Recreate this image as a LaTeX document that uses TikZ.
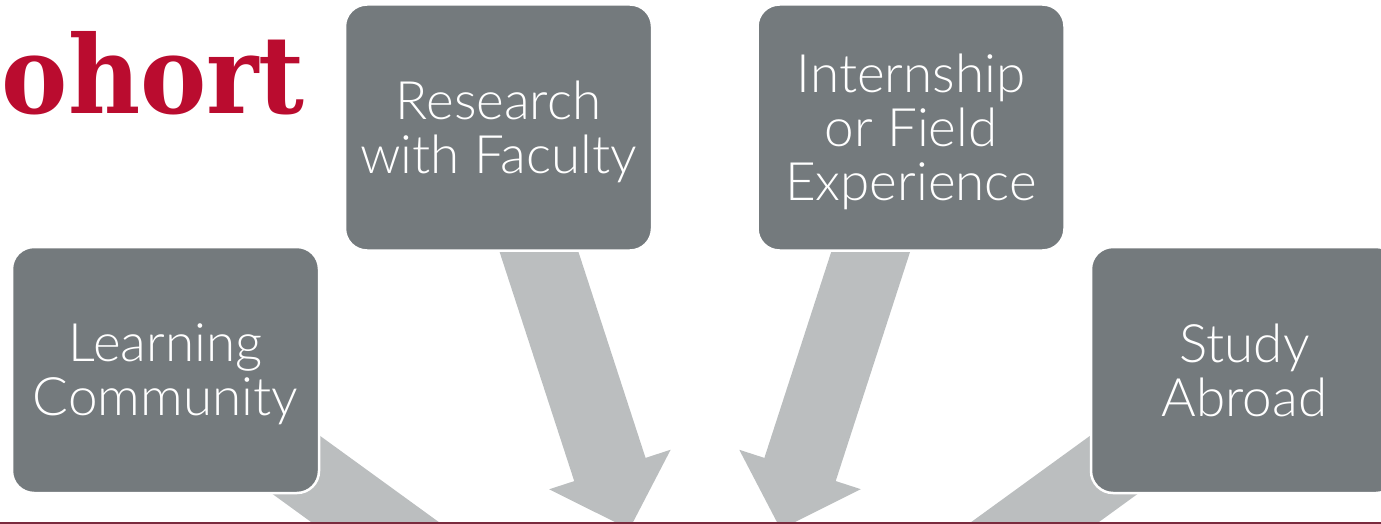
\documentclass[tikz,border=0pt]{standalone}
\usepackage{fontspec}
\setmainfont{Lato Light}
\newfontfamily\cohortfont[FakeStretch=0.92]{DejaVu Serif}
\usetikzlibrary{arrows.meta,backgrounds}
\definecolor{boxgray}{HTML}{747A7D}
\definecolor{arrowgray}{HTML}{BBBEBF}
\definecolor{cohortred}{HTML}{BA0C2F}
\definecolor{rulemaroon}{HTML}{7A2B3E}
\tikzset{
  exphox/.style={rectangle, rounded corners=22pt, draw=white, line width=2.5pt, fill=boxgray, text=white,
    minimum width=307pt, minimum height=246pt, align=center, inner sep=0pt, text depth=0pt,
    font=\fontsize{53}{54}\selectfont},
  blockarrow/.style={draw=arrowgray, line width=75pt, -{Triangle[width=124pt,length=63pt]}, arrowgray}
}
\begin{document}
\begin{tikzpicture}[x=1pt, y=-1pt]
    \clip (0,0) rectangle (1381,524);
    \node[anchor=base east, inner sep=0pt, text=cohortred, font=\cohortfont\bfseries\fontsize{108}{108}\selectfont] (cohort) at (305,114) {ohort};
    \node[exphox] (learning) at (165.5,370) {Learning\\Community};
    \node[exphox] (research) at (498.5,127.5) {Research\\with Faculty};
    \node[exphox] (internship) at (911,127.5) {Internship\\or Field\\Experience};
    \node[exphox] (abroad) at (1244.5,370) {Study\\Abroad};
    \coordinate (learningend) at (565,660);
    \coordinate (researchend) at (629.4,529.4);
    \coordinate (internshipend) at (780.6,529.4);
    \coordinate (abroadend) at (845,660);
    \begin{pgfonlayer}{background}
        \draw[blockarrow] (learning.center) -- (learningend);
        \draw[blockarrow] (research.center) -- (researchend);
        \draw[blockarrow] (internship.center) -- (internshipend);
        \draw[blockarrow] (abroad.center) -- (abroadend);
    \end{pgfonlayer}
    \fill[rulemaroon] (0,522) rectangle (1381,524);
\end{tikzpicture}
\end{document}
